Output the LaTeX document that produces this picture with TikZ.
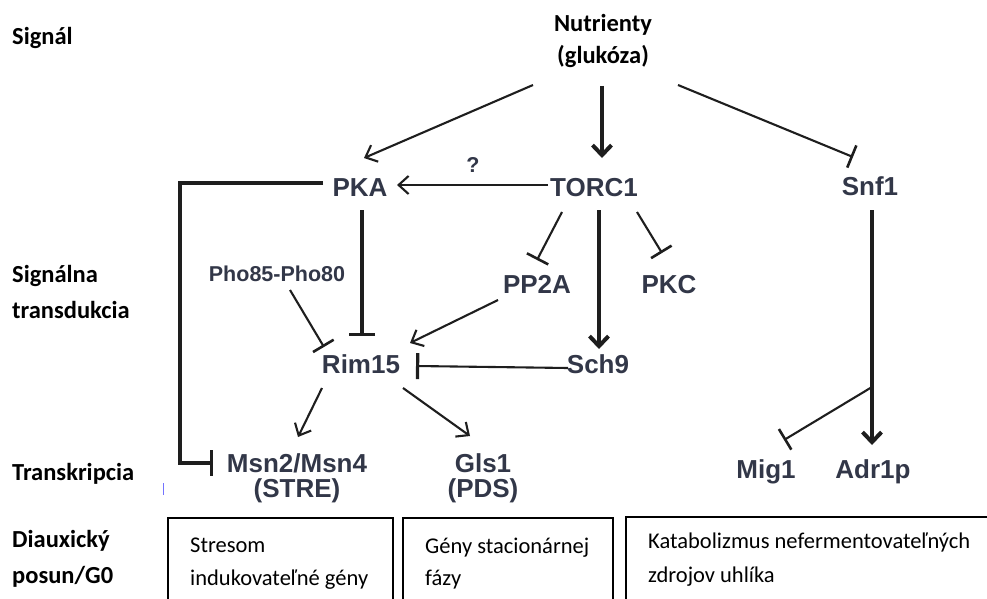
\documentclass[tikz,border=0pt]{standalone}
\usepackage{fontspec}
\setmainfont{Carlito}
\newfontfamily\arialf{Liberation Sans}
\usetikzlibrary{arrows.meta,calc}
\definecolor{protc}{RGB}{50,55,72}
\definecolor{linec}{RGB}{30,30,30}
\tikzset{
 lbl/.style={anchor=base west, font=\fontsize{24.5}{30}\selectfont\bfseries, inner sep=0},
 prot/.style={anchor=base, font=\arialf\bfseries\fontsize{26}{31}\selectfont, text=protc, inner sep=0},
 protsmall/.style={prot, font=\arialf\bfseries\fontsize{21.5}{25}\selectfont},
 boxtxt/.style={anchor=base west, font=\fontsize{22.5}{27}\selectfont, inner sep=0},
 act/.style={draw=linec, line width=2.1, -{Straight Barb[length=10,width=18]}},
 actthick/.style={draw=linec, line width=4, -{Straight Barb[length=10,width=19]}},
 inh/.style={draw=linec, line width=2.1, -{Bar[width=24,line width=2.6]}},
 inhthick/.style={draw=linec, line width=3.2, -{Bar[width=26]}},
 gbox/.style={draw=black, line width=2.8},
}
\begin{document}
\begin{tikzpicture}[x=1pt,y=-1pt]
\useasboundingbox (0,0) rectangle (987,599);
% left labels
\node[lbl] (sig) at (12,45) {Signál};
\node[lbl] (st1) at (12,282) {Signálna};
\node[lbl] (st2) at (12,318) {transdukcia};
\node[lbl] (tr) at (12,480) {Transkripcia};
\node[lbl] (di1) at (12,547) {Diauxický};
\node[lbl] (di2) at (12,583) {posun/G0};
% signal
\node[lbl,anchor=base] (nut) at (603,32) {Nutrienty};
\node[lbl,anchor=base] (glu) at (603,64) {(glukóza)};
% proteins
\node[prot] (pka) at (360,196) {PKA};
\node[prot] (torc) at (594,196) {TORC1};
\node[prot] (snf) at (870,195) {Snf1};
\node[protsmall] (pho) at (277,281) {Pho85-Pho80};
\node[prot] (pp) at (537,293) {PP2A};
\node[prot] (pkc) at (669,293) {PKC};
\node[prot] (rim) at (361,373) {Rim15};
\node[prot] (sch) at (598,373) {Sch9};
\node[prot] (msn) at (297,472) {Msn2/Msn4};
\node[prot] (stre) at (297,497) {(STRE)};
\node[prot] (gls) at (483,472) {Gls1};
\node[prot] (pds) at (483,497) {(PDS)};
\node[prot] (mig) at (766,478) {Mig1};
\node[prot] (adr) at (873,478) {Adr1p};
\node[protsmall] (q) at (473,172) {?};
% connectors
\draw[actthick] ($(glu.base)+(-1,22)$) -- ($(torc.base)+(8,-38)$);
\draw[act] ($(glu.base)+(-70,21)$) -- ($(pka.base)+(4,-38)$);
\draw[inh] ($(glu.base)+(75,21)$) -- ($(snf.base)+(-17,-38)$);
\draw[act] ($(torc.base)+(-46,-11)$) -- ($(pka.base)+(37,-11)$);
\draw[inhthick] ($(pka.base)+(-37,-13)$) -- ++(-143,0) |- ($(msn.base)+(-84,-9)$);
\draw[inh] ($(pho.base)+(13,9)$) -- ($(rim.base)+(-37,-26)$);
\draw[inhthick] ($(pka.base)+(2,14)$) -- ($(rim.base)+(1,-37)$);
\draw[inh] ($(torc.base)+(-32,16)$) -- ($(pp.base)+(0,-33)$);
\draw[actthick] ($(torc.base)+(5,14)$) -- ($(sch.base)+(1,-24)$);
\draw[inh] ($(torc.base)+(43,16)$) -- ($(pkc.base)+(-7,-40)$);
\draw[act] ($(pp.base)+(-39,7)$) -- ($(rim.base)+(49,-30)$);
\draw[draw=linec, line width=2.1, -{Bar[width=26,line width=3.2]}] ($(sch.base)+(-30,-5)$) -- ($(rim.base)+(55,-7)$);
\draw[actthick] ($(snf.base)+(2,15)$) -- ($(adr.base)+(-1,-33)$);
\coordinate (br) at ($(snf.base)+(2,192)$);
\draw[inh] (br) -- ($(mig.base)+(18,-38)$);
\draw[act] ($(rim.base)+(-39,15)$) -- ($(msn.base)+(1,-35)$);
\draw[act] ($(rim.base)+(42,15)$) -- ($(gls.base)+(-13,-36)$);
% tiny mark
\draw[blue!55, line width=1] (163,483) -- (163,495);
% boxes
\draw[gbox] (168,610) |- (393,518) -- (393,610);
\draw[gbox] (403,610) |- (613,518) -- (613,610);
\draw[gbox] (626,610) |- (995,517);
\node[boxtxt] (b1a) at (190,552) {Stresom};
\node[boxtxt] (b1b) at (190,585) {indukovateľné gény};
\node[boxtxt] (b2a) at (425,553) {Gény stacionárnej};
\node[boxtxt] (b2b) at (425,585) {fázy};
\node[boxtxt] (b3a) at (648,548) {Katabolizmus nefermentovateľných};
\node[boxtxt] (b3b) at (648,582) {zdrojov uhlíka};
\end{tikzpicture}
\end{document}
